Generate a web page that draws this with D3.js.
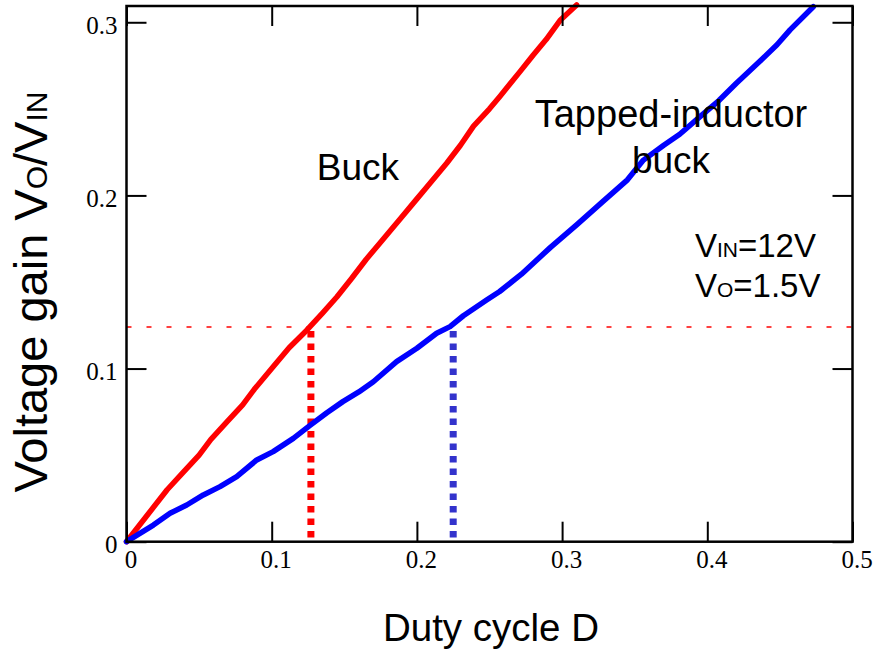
<!DOCTYPE html>
<html>
<head>
<meta charset="utf-8">
<script src="https://cdn.jsdelivr.net/npm/d3@7"></script>
<style>
  body { margin: 0; background: #fff; }
  svg { display: block; }
  .tick text { font-family: "Liberation Serif", "Times New Roman", serif; font-size: 25px; fill: #000; }
  .lbl { font-family: "Liberation Sans", Arial, sans-serif; fill: #000; }
</style>
</head>
<body>
<svg id="chart"></svg>
<script>
// duty cycle D vs voltage gain
const buck_d = [0, 0.014, 0.028, 0.039, 0.05, 0.058, 0.069, 0.08, 0.088, 0.101, 0.112, 0.124, 0.135, 0.145, 0.155,
    0.165, 0.175, 0.188, 0.2, 0.207, 0.2205, 0.23, 0.239, 0.25, 0.257, 0.271, 0.28, 0.289, 0.2985, 0.31];
const buck_g = [0, 0.015, 0.03, 0.04, 0.05, 0.059, 0.069, 0.079, 0.088, 0.101, 0.112, 0.122, 0.132, 0.1415, 0.152,
    0.163, 0.173, 0.186, 0.198, 0.205, 0.2186, 0.229, 0.24, 0.25, 0.257, 0.2715, 0.281, 0.29, 0.301, 0.31];

const tapped_d = [0, 0.0185, 0.03, 0.0415, 0.0529, 0.0644, 0.0759, 0.0897, 0.101, 0.1149, 0.1264, 0.138, 0.149, 0.16,
    0.17, 0.186, 0.2, 0.2136, 0.2228, 0.232, 0.248, 0.257, 0.272, 0.292, 0.31, 0.328, 0.345, 0.356, 0.37, 0.381,
    0.395, 0.408, 0.42, 0.436, 0.448, 0.457, 0.473];
const tapped_g = [0, 0.0096, 0.0164, 0.0212, 0.027, 0.0318, 0.0376, 0.0472, 0.052, 0.0597, 0.0672, 0.0745, 0.0809, 0.0865,
    0.0924, 0.104, 0.1117, 0.1204, 0.1242, 0.1305, 0.1396, 0.1445, 0.1545, 0.17, 0.183, 0.1964, 0.209, 0.2204, 0.229, 0.2353,
    0.2455, 0.2548, 0.2648, 0.2773, 0.287, 0.2956, 0.309];

// operating point: Vo/Vin = 1.5/12
const target_gain = 0.124;
const buck_duty = 0.127;
const tapped_duty = 0.225;

const x_ticks = [0, 0.1, 0.2, 0.3, 0.4, 0.5];
const y_ticks = [0, 0.1, 0.2, 0.3];

class GainChart {

    constructor(config) {
        this.config = {
            parent: config.parent,
            width: config.width || 878,
            height: config.height || 652,
            margin: config.margin || { top: 6, right: 25.5, bottom: 110.3, left: 126.5 }
        };
        this.init();
    }

    init() {
        let self = this;

        self.svg = d3.select(self.config.parent)
            .attr('width', self.config.width)
            .attr('height', self.config.height);

        self.chart = self.svg.append('g')
            .attr('transform', `translate(${self.config.margin.left}, ${self.config.margin.top})`);

        self.inner_width = self.config.width - self.config.margin.left - self.config.margin.right;
        self.inner_height = self.config.height - self.config.margin.top - self.config.margin.bottom;

        self.xscale = d3.scaleLinear()
            .domain([0, 0.5])
            .range([0, self.inner_width]);

        self.yscale = d3.scaleLinear()
            .domain([0, 0.3094])
            .range([self.inner_height, 0]);

        const fmt = d => d === 0 ? "0" : d3.format(".1f")(d);

        // ticks point inwards on all four sides
        self.xaxis = d3.axisBottom(self.xscale).tickValues(x_ticks).tickFormat(fmt)
            .tickSize(-20).tickSizeOuter(0).tickPadding(9);
        self.xaxis_top = d3.axisTop(self.xscale).tickValues(x_ticks).tickFormat("")
            .tickSize(-20).tickSizeOuter(0);
        self.yaxis = d3.axisLeft(self.yscale).tickValues(y_ticks).tickFormat(fmt)
            .tickSize(-20).tickSizeOuter(0).tickPadding(9);
        self.yaxis_right = d3.axisRight(self.yscale).tickValues(y_ticks).tickFormat("")
            .tickSize(-20).tickSizeOuter(0);
    }

    render() {
        let self = this;

        // reference lines
        self.chart.append('line')
            .attr('x1', self.xscale(0)).attr('x2', self.xscale(0.5))
            .attr('y1', self.yscale(target_gain)).attr('y2', self.yscale(target_gain))
            .attr('stroke', '#ff0000').attr('stroke-width', 1.5)
            .attr('stroke-dasharray', '5,15');

        const drops = [
            { d: buck_duty, color: '#ff0000' },
            { d: tapped_duty, color: '#3333cc' }
        ];
        self.chart.selectAll('line.drop')
            .data(drops).join('line')
            .attr('class', 'drop')
            .attr('x1', d => self.xscale(d.d)).attr('x2', d => self.xscale(d.d))
            .attr('y1', self.yscale(target_gain) + 4).attr('y2', self.yscale(0) - 4)
            .attr('stroke', d => d.color).attr('stroke-width', 7)
            .attr('stroke-dasharray', '6.5,6');

        const series = [
            { d: buck_d, g: buck_g, color: '#ff0000' },
            { d: tapped_d, g: tapped_g, color: '#0000ff' }
        ];
        const line = d3.line()
            .x(p => self.xscale(p[0]))
            .y(p => self.yscale(p[1]));

        self.chart.selectAll('path.curve')
            .data(series).join('path')
            .attr('class', 'curve')
            .attr('d', s => line(s.d.map((v, i) => [v, s.g[i]])))
            .attr('fill', 'none')
            .attr('stroke', s => s.color)
            .attr('stroke-width', 5.5)
            .attr('stroke-linejoin', 'round')
            .attr('stroke-linecap', 'round');

        // axes
        const xg = self.chart.append('g')
            .attr('transform', `translate(0, ${self.inner_height})`)
            .call(self.xaxis);
        xg.selectAll('.tick text').attr('dx', 4);
        self.chart.append('g').call(self.xaxis_top);
        const yg = self.chart.append('g').call(self.yaxis);
        yg.selectAll('.tick text').attr('dy', '0.44em');
        self.chart.append('g')
            .attr('transform', `translate(${self.inner_width}, 0)`)
            .call(self.yaxis_right);

        self.chart.selectAll('.domain').remove();
        self.chart.selectAll('.tick line').attr('stroke', '#000').attr('stroke-width', 2);

        self.chart.append('rect')
            .attr('width', self.inner_width)
            .attr('height', self.inner_height)
            .attr('fill', 'none')
            .attr('stroke', '#000')
            .attr('stroke-width', 2.5);

        // annotations
        self.chart.append('text').attr('class', 'lbl')
            .attr('x', self.xscale(0.131)).attr('y', self.yscale(0.2089))
            .attr('font-size', 37)
            .text('Buck');
        self.chart.append('text').attr('class', 'lbl')
            .attr('x', self.xscale(0.375)).attr('y', self.yscale(0.2397))
            .attr('text-anchor', 'middle').attr('font-size', 38)
            .text('Tapped-inductor');
        self.chart.append('text').attr('class', 'lbl')
            .attr('x', self.xscale(0.375)).attr('y', self.yscale(0.213))
            .attr('text-anchor', 'middle').attr('font-size', 37)
            .text('buck');

        const cond = self.chart.append('text').attr('class', 'lbl')
            .attr('x', self.xscale(0.3915)).attr('y', self.yscale(0.1646))
            .attr('font-size', 33);
        cond.append('tspan').text('V');
        cond.append('tspan').attr('font-size', 21).text('IN');
        cond.append('tspan').text('=12V');

        const cond2 = self.chart.append('text').attr('class', 'lbl')
            .attr('x', self.xscale(0.3915)).attr('y', self.yscale(0.1412))
            .attr('font-size', 33);
        cond2.append('tspan').text('V');
        cond2.append('tspan').attr('font-size', 21).text('O');
        cond2.append('tspan').text('=1.5V');

        // axis titles
        self.svg.append('text').attr('class', 'lbl')
            .attr('x', 491).attr('y', 641)
            .attr('text-anchor', 'middle').attr('font-size', 38.5)
            .text('Duty cycle D');

        const ylab = self.svg.append('text').attr('class', 'lbl')
            .attr('transform', `translate(47, 292) rotate(-90)`)
            .attr('text-anchor', 'middle').attr('font-size', 47);
        ylab.append('tspan').text('Voltage gain V');
        ylab.append('tspan').attr('font-size', 30).text('O');
        ylab.append('tspan').text('/V');
        ylab.append('tspan').attr('font-size', 30).text('IN');
    }
}

const chart = new GainChart({ parent: '#chart' });
chart.render();
</script>
</body>
</html>
